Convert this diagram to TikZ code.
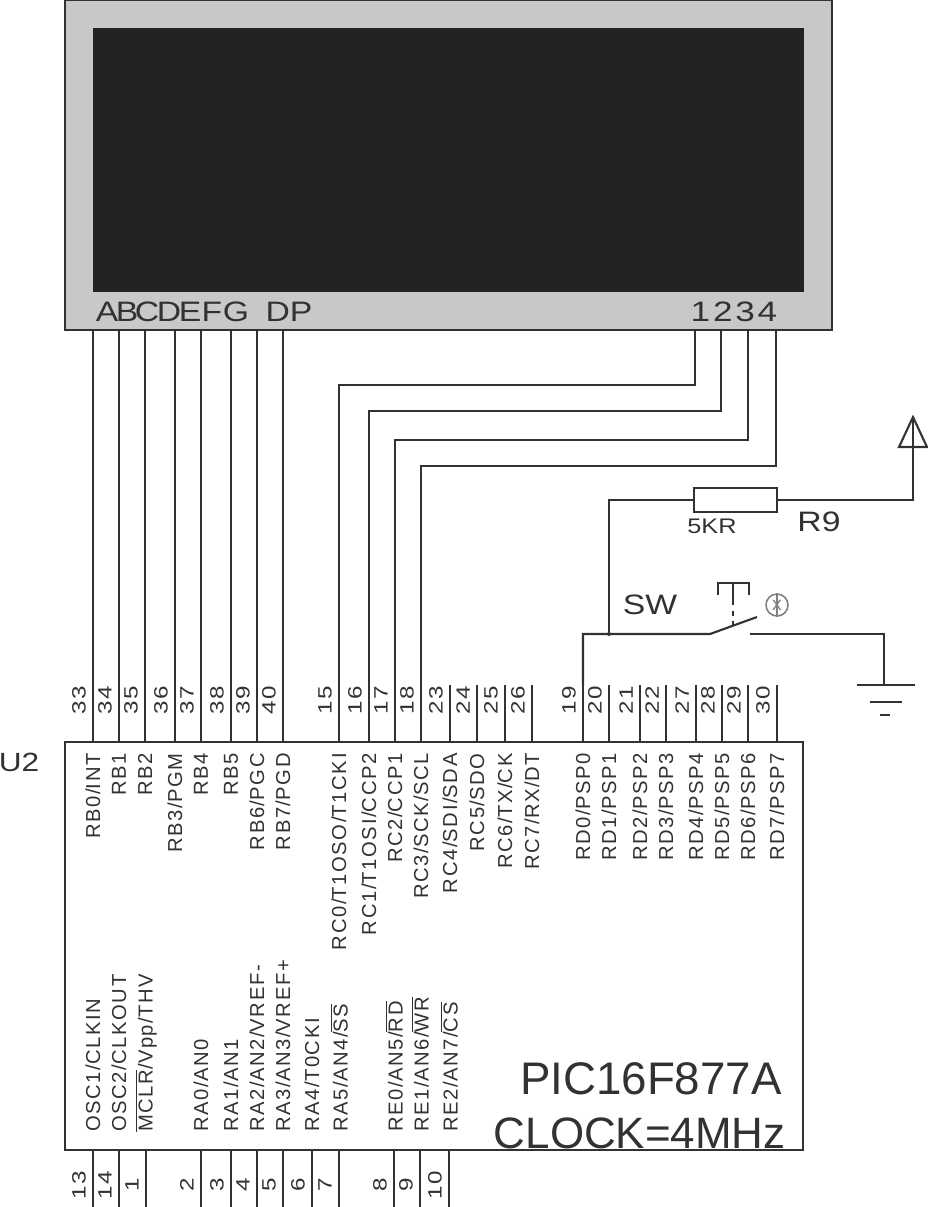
\documentclass[tikz,border=0pt]{standalone}
\usepackage{fontspec}
\setmainfont{Liberation Sans}
\newfontfamily\pinfont[LetterSpace=8]{Liberation Sans}
\newfontfamily\numfont[FakeStretch=1.25,LetterSpace=6]{Liberation Sans}
\newfontfamily\widefont[FakeStretch=1.2]{Liberation Sans}
\newfontfamily\digitfont[FakeStretch=1.25,LetterSpace=10]{Liberation Sans}
\definecolor{wireblack}{RGB}{50, 50, 50}
\definecolor{panelgray}{RGB}{200, 200, 200}
\definecolor{screenblack}{RGB}{35, 35, 35}
\usetikzlibrary{positioning}
\tikzset{
  wire/.style={draw=wireblack, line width=1.2pt},
  pinnum/.style={font=\numfont\fontsize{11}{11}\selectfont, text=wireblack, rotate=90, inner sep=0pt},
  pintop/.style={font=\pinfont\fontsize{11.5}{12}\selectfont, text=wireblack, rotate=90, anchor=east, inner sep=0pt},
  pinbot/.style={font=\pinfont\fontsize{11.5}{12}\selectfont, text=wireblack, rotate=90, anchor=west, inner sep=0pt},
  lcdtext/.style={font=\widefont\fontsize{16}{16}\selectfont, text=wireblack, inner sep=0pt},
  parttext/.style={font=\widefont\fontsize{12}{12}\selectfont, text=wireblack, inner sep=0pt},
  chiptext/.style={font=\fontsize{25}{25}\selectfont, text=wireblack, inner sep=0pt, anchor=base east},
}
\newcommand{\ovbar}[1]{$\overline{\mbox{#1}}$}
\begin{document}
\begin{tikzpicture}[x=0.02cm, y=-0.02cm]
  \useasboundingbox (0,0) rectangle (928,1207);
  % Display
  \node[wire, fill=panelgray, minimum width=15.34cm, minimum height=6.6cm, inner sep=0pt] (lcd) at (448.5,165) {};
  \node[fill=screenblack, minimum width=14.22cm, minimum height=5.28cm, inner sep=0pt] (screen) at (448.5,160) {};
  \node[lcdtext] (lA) at (107,312) {A};
  \node[lcdtext] (lB) at (127,312) {B};
  \node[lcdtext] (lC) at (147,312) {C};
  \node[lcdtext] (lD) at (169,312) {D};
  \node[lcdtext] (lE) at (190,312) {E};
  \node[lcdtext] (lF) at (212,312) {F};
  \node[lcdtext] (lG) at (236,312) {G};
  \node[lcdtext] (lDP) at (289,312) {DP};
  \node[lcdtext, font=\digitfont\fontsize{16}{16}\selectfont] (ldig) at (734,312) {1234};
  % Chip
  \node[wire, fill=white, minimum width=14.76cm, minimum height=8.16cm, inner sep=0pt] (pic) at (434,946) {};
  \node[lcdtext, font=\widefont\fontsize{15}{15}\selectfont] (u2) at (19,762) {U2};
  \node[chiptext, font=\fontsize{26}{26}\selectfont] (partname) at (782,1094) {PIC16F877A};
  \node[chiptext] (clock) at (786,1148) {CLOCK=4MHz};
  % Top pins
  \foreach \px/\num/\lab in {93/33/RB0\slash INT, 119/34/RB1, 145/35/RB2, 175/36/RB3\slash PGM, 201/37/RB4, 231/38/RB5, 257/39/RB6\slash PGC, 283/40/RB7\slash PGD,
      339/15/RC0\slash T1OSO\slash T1CKI, 369/16/RC1\slash T1OSI\slash CCP2, 395/17/RC2\slash CCP1, 421/18/RC3\slash SCK\slash SCL, 450/23/RC4\slash SDI\slash SDA, 477/24/RC5\slash SDO, 505/25/RC6\slash TX\slash CK, 532/26/RC7\slash RX\slash DT,
      583/19/RD0\slash PSP0, 609/20/RD1\slash PSP1, 640/21/RD2\slash PSP2, 666/22/RD3\slash PSP3, 696/27/RD4\slash PSP4, 722/28/RD5\slash PSP5, 748/29/RD6\slash PSP6, 777/30/RD7\slash PSP7} {
    \coordinate (p\num) at (\px,742);
    \coordinate (e\num) at (\px,685);
    \draw[wire] (e\num) -- (p\num);
    \node[pinnum] (n\num) at (\px-14,700) {\num};
    \node[pintop] (t\num) at (\px,753) {\lab};
  }
  % Bottom pins
  \foreach \px/\num/\lab in {93/13/OSC1\slash CLKIN, 119/14/OSC2\slash CLKOUT, 146/1/\ovbar{MCLR}\slash Vpp\slash THV,
      201/2/RA0\slash AN0, 231/3/RA1\slash AN1, 257/4/RA2\slash AN2\slash VREF-, 283/5/RA3\slash AN3\slash VREF+, 312/6/RA4\slash T0CKI, 339/7/RA5\slash AN4\slash \ovbar{SS},
      394/8/RE0\slash AN5\slash \ovbar{RD}, 420/9/RE1\slash AN6\slash \ovbar{WR}, 449/10/RE2\slash AN7\slash \ovbar{CS}} {
    \coordinate (p\num) at (\px,1150);
    \coordinate (e\num) at (\px,1207);
    \draw[wire] (p\num) -- (e\num);
    \node[pinnum] (n\num) at (\px-14,1185) {\num};
    \node[pinbot] (t\num) at (\px,1132) {\lab};
  }
  % Segment lines
  \foreach \px/\num in {93/33, 119/34, 145/35, 175/36, 201/37, 231/38, 257/39, 283/40} {
    \coordinate (s\num) at (\px,330);
    \draw[wire] (s\num) -- (e\num);
  }
  % Digit lines
  \coordinate (d1) at (695,330);
  \coordinate (d2) at (721,330);
  \coordinate (d3) at (748,330);
  \coordinate (d4) at (776,330);
  \draw[wire] (d1) |- (339,385) -- (e15);
  \draw[wire] (d2) |- (369,411) -- (e16);
  \draw[wire] (d3) |- (395,440) -- (e17);
  \draw[wire] (d4) |- (421,466) -- (e18);
  % Pull-up
  \node[wire, fill=white, minimum width=1.66cm, minimum height=0.48cm, inner sep=0pt] (r9) at (735.5,500) {};
  \node[parttext] (rval) at (712,526) {5KR};
  \node[lcdtext] (rname) at (819,522) {R9};
  \coordinate (vcc) at (913,447);
  \coordinate (junc) at (609,634);
  \draw[wire] (r9.east) -| (vcc);
  \draw[wire] (vcc) -- (913,420);
  \draw[wire] (899,447) -- (927,447) -- (913,417) -- cycle;
  \draw[wire] (r9.west) -| (junc);
  \fill[wireblack] (junc) circle (2);
  % Switch
  \node[lcdtext] (swname) at (650,605) {SW};
  \coordinate (swa) at (710,634);
  \coordinate (swb) at (757,617);
  \coordinate (swc) at (750,634);
  \coordinate (gnd) at (884,685);
  \draw[wire] (e19) |- (swa) -- (swb);
  \draw[wire] (swc) -| (gnd);
  \draw[wire] (718,595) -- (718,583) -- (749,583) -- (749,595);
  \draw[wire] (733,583) -- (733,600);
  \draw[wire, dashed] (733,600) -- (733,625);
  \node[draw=gray, line width=0.9pt, circle, minimum size=0.44cm, inner sep=0pt, font=\fontsize{11}{11}\selectfont, text=gray] (swmark) at (777,605) {x};
  \draw[gray, line width=0.7pt] (swmark.north) -- (swmark.south);
  % Ground
  \draw[wire] (857,685) -- (915,685);
  \draw[wire] (870,702) -- (902,702);
  \draw[wire] (880,715) -- (890,715);
\end{tikzpicture}
\end{document}
